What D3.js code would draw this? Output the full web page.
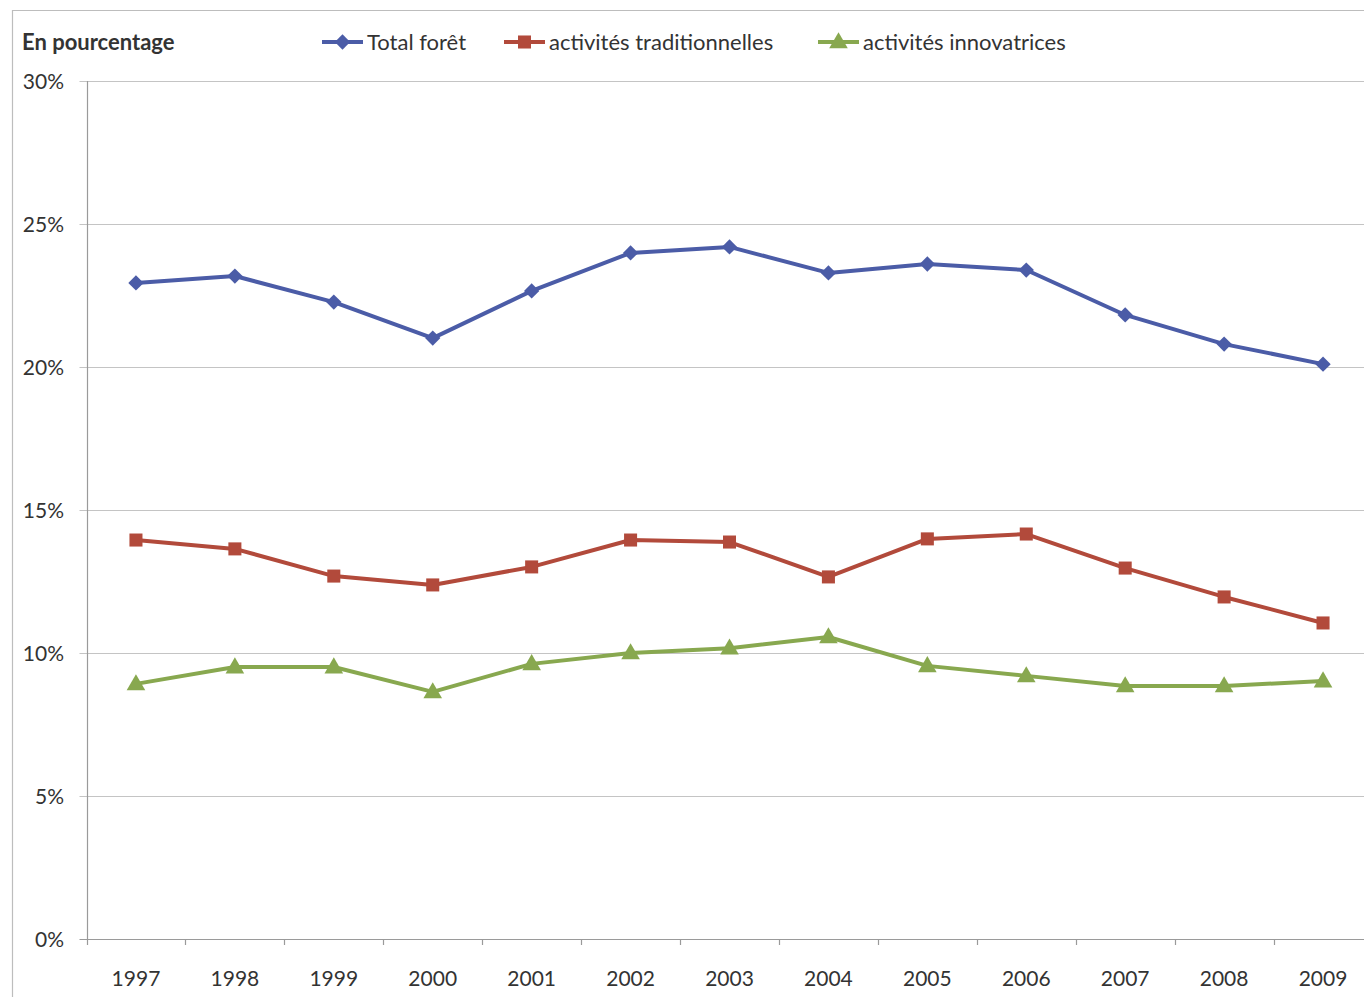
<!DOCTYPE html>
<html>
<head>
<meta charset="utf-8">
<script src="https://cdn.jsdelivr.net/npm/d3@7"></script>
<style>
  html, body { margin: 0; padding: 0; background: #fff; }
  svg { display: block; }
  text { font-family: Lato, "Open Sans", sans-serif; fill: #333; }
</style>
</head>
<body>
<svg id="chart" width="1364" height="997"></svg>
<script>
// Years on the category axis
const years = ["1997","1998","1999","2000","2001","2002","2003","2004","2005","2006","2007","2008","2009"];

// Shares in percent
const totalForet = [22.94, 23.18, 22.27, 21.01, 22.66, 23.99, 24.20, 23.29, 23.60, 23.39, 21.82, 20.80, 20.10];
const activitesTraditionnelles = [13.95, 13.64, 12.69, 12.38, 13.01, 13.95, 13.88, 12.66, 13.99, 14.16, 12.97, 11.96, 11.05];
const activitesInnovatrices = [8.92, 9.51, 9.51, 8.64, 9.62, 10.00, 10.17, 10.56, 9.55, 9.20, 8.85, 8.85, 9.02];

const yTicks = [0, 5, 10, 15, 20, 25, 30];
const seriesNames = ["Total forêt", "activités traditionnelles", "activités innovatrices"];
const seriesColors = ["#4b5ca7", "#b24a3b", "#88a84f"];
const seriesMarkers = ["diamond", "square", "triangle"];

const series = seriesNames.map((name, i) => ({
  name,
  color: seriesColors[i],
  marker: seriesMarkers[i],
  values: [totalForet, activitesTraditionnelles, activitesInnovatrices][i]
}));

const svg = d3.select("#chart");
// The plot area runs slightly past the right edge of the canvas
const plot = { left: 86.5, right: 1372.5, top: 81, bottom: 939 };

const x = d3.scaleBand().domain(years).range([plot.left, plot.right]).padding(0);
const y = d3.scaleLinear().domain([0, 30]).range([plot.bottom, plot.top]);

// Outer frame (top and left edges visible)
svg.append("path")
  .attr("d", `M12.5,${997} L12.5,10.5 L1364,10.5`)
  .attr("fill", "none").attr("stroke", "#bdbdbd").attr("stroke-width", 1.2);

// Horizontal gridlines with small ticks to the left of the axis
const grid = svg.append("g");
grid.selectAll("line").data(yTicks).join("line")
  .attr("x1", plot.left - 7).attr("x2", 1364)
  .attr("y1", d => Math.round(y(d)) + 0.5).attr("y2", d => Math.round(y(d)) + 0.5)
  .attr("stroke", d => d === 0 ? "#9a9a9a" : "#c4c4c4").attr("stroke-width", 1.2);

// Y axis line
svg.append("line")
  .attr("x1", 87.5).attr("x2", 87.5)
  .attr("y1", plot.top).attr("y2", plot.bottom + 1)
  .attr("stroke", "#9a9a9a").attr("stroke-width", 1.2);

// Y tick labels
svg.append("g").selectAll("text").data(yTicks).join("text")
  .attr("x", 64).attr("y", d => y(d) + 7.5)
  .attr("text-anchor", "end").attr("font-size", 21)
  .text(d => d + "%");

// X ticks at category boundaries
const boundaries = years.map(yr => x(yr));
svg.append("g").selectAll("line").data(boundaries).join("line")
  .attr("x1", d => Math.round(d) + 0.5).attr("x2", d => Math.round(d) + 0.5)
  .attr("y1", plot.bottom).attr("y2", plot.bottom + 6)
  .attr("stroke", "#9a9a9a").attr("stroke-width", 1.2);

// X tick labels
svg.append("g").selectAll("text").data(years).join("text")
  .attr("x", d => x(d) + x.bandwidth() / 2).attr("y", 986)
  .attr("text-anchor", "middle").attr("font-size", 21)
  .text(d => d);

// Marker shapes
function markerPath(type) {
  if (type === "diamond") return d3.symbol().type(d3.symbolDiamond2).size(150)();
  if (type === "square") return d3.symbol().type(d3.symbolSquare).size(170)();
  return d3.symbol().type(d3.symbolTriangle).size(150)();
}

const cx = (d, i) => x(years[i]) + x.bandwidth() / 2;

const line = d3.line()
  .x((d, i) => cx(d, i))
  .y(d => y(d));

const gSeries = svg.append("g").selectAll("g").data(series).join("g");
gSeries.append("path")
  .attr("d", s => line(s.values))
  .attr("fill", "none")
  .attr("stroke", s => s.color)
  .attr("stroke-width", 4)
  .attr("stroke-linejoin", "round");

gSeries.each(function (s) {
  d3.select(this).selectAll("path.mk").data(s.values).join("path")
    .attr("class", "mk")
    .attr("d", markerPath(s.marker))
    .attr("transform", (d, i) => `translate(${cx(d, i)},${y(d) + (s.marker === "triangle" ? 1 : 0)})`)
    .attr("fill", s.color);
});

// Title
svg.append("text")
  .attr("x", 22).attr("y", 50)
  .attr("font-size", 22).attr("font-weight", "bold")
  .text("En pourcentage");

// Legend
const legendX = [322, 504, 818];
const legend = svg.append("g").selectAll("g").data(series).join("g")
  .attr("transform", (s, i) => `translate(${legendX[i]},42)`);
legend.append("line")
  .attr("x1", 0).attr("x2", 41).attr("y1", 0).attr("y2", 0)
  .attr("stroke", s => s.color).attr("stroke-width", 4);
legend.append("path")
  .attr("d", s => markerPath(s.marker))
  .attr("transform", s => `translate(20.5,${s.marker === "triangle" ? 1 : 0})`)
  .attr("fill", s => s.color);
legend.append("text")
  .attr("x", 45).attr("y", 8)
  .attr("font-size", 22)
  .text(s => s.name);
</script>
</body>
</html>
